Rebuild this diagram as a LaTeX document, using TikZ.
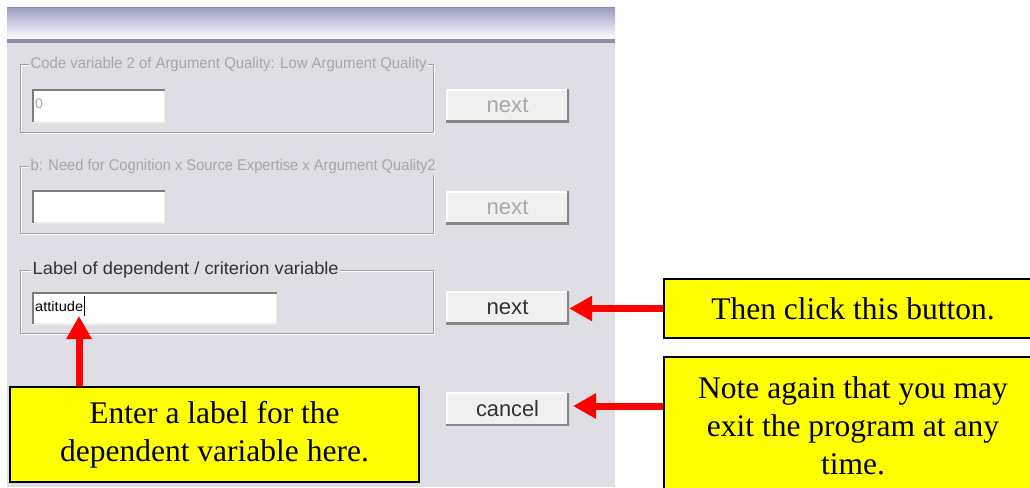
\documentclass[tikz,border=0pt]{standalone}
\usepackage{fontspec}
\usepackage{graphicx}
\setmainfont{Liberation Serif}
\setsansfont{Liberation Sans}
\usetikzlibrary{arrows.meta}
\definecolor{panelgray}{RGB}{222,222,228}
\definecolor{tbtop}{RGB}{160,162,196}
\definecolor{tbbot}{RGB}{248,248,252}
\definecolor{tbline}{RGB}{140,140,170}
\definecolor{framedark}{RGB}{160,160,164}
\definecolor{distext}{RGB}{168,168,164}
\definecolor{dark}{RGB}{50,50,50}
\definecolor{btnface}{RGB}{240,240,240}
\definecolor{btnshade}{RGB}{135,135,135}
\definecolor{tbdark}{RGB}{125,125,125}
\definecolor{tblight}{RGB}{240,238,226}
\definecolor{callyellow}{RGB}{255,255,0}
\definecolor{arrowred}{RGB}{255,0,0}
\tikzset{
  glabel/.style={fill=panelgray, inner sep=1.5pt, anchor=west},
  btn/.style={fill=btnface, minimum width=123pt, minimum height=33pt, inner sep=0pt,
    font=\sffamily\fontsize{22}{22}\selectfont,
    path picture={
      \draw[white,line width=3pt] (path picture bounding box.south west) |- (path picture bounding box.north east);
      \draw[btnshade,line width=4pt] (path picture bounding box.south west) -| (path picture bounding box.north east);}},
  tbox/.style={fill=white, inner sep=0pt, minimum height=33pt, anchor=north west,
    path picture={
      \draw[tblight,line width=3pt] (path picture bounding box.south west) -| (path picture bounding box.north east);
      \draw[tbdark,line width=4pt] (path picture bounding box.south west) |- (path picture bounding box.north east);}},
  callout/.style={fill=callyellow, draw=black, line width=2pt, inner sep=0pt, align=center,
    font=\fontsize{31.5}{38}\selectfont},
  redarrow/.style={draw=arrowred, line width=7pt, -{Triangle[length=23pt,width=24pt]}},
  etch/.style={draw=framedark, line width=1pt},
  etchw/.style={draw=white, line width=1pt}
}
\begin{document}
\begin{tikzpicture}[x=1pt,y=-1pt]
\useasboundingbox (0,0) rectangle (1030,487);
\fill[white] (0,0) rectangle (1030,487);
% panel
\fill[panelgray] (7,42) rectangle (615,487);
% title bar
\fill[tbline] (7,7) rectangle (615,9);
\shade[top color=tbtop, bottom color=tbbot] (7,9) rectangle (615,37);
\fill[tbbot] (7,37) rectangle (615,39);
\fill[tbline] (7,39) rectangle (615,43);

% group 1
\draw[etchw] (21.5,65.5) rectangle (434.5,133.5);
\draw[etch] (20.5,64.5) rectangle (433.5,132.5);
\node[glabel, text=distext, font=\sffamily\fontsize{15.5}{15.5}\selectfont] (lab1) at (29,64)
  {\resizebox{396pt}{\height}{Code variable 2 of Argument Quality: Low Argument Quality}};
\node[tbox, minimum width=133pt] (tb1) at (32,89) {};
\node[anchor=west, inner sep=0pt, text=distext, font=\sffamily\fontsize{14}{14}\selectfont] (tb1txt) at (35,104) {0};
\node[btn, text=distext] (bn1) at (507.5,105.5) {\resizebox{42pt}{\height}{next}};

% group 2
\draw[etchw] (21.5,167.5) rectangle (434.5,234.5);
\draw[etch] (20.5,166.5) rectangle (433.5,233.5);
\node[glabel, text=distext, font=\sffamily\fontsize{15.5}{15.5}\selectfont] (lab2) at (29,166)
  {\resizebox{405pt}{\height}{b: Need for Cognition x Source Expertise x Argument Quality2}};
\node[tbox, minimum width=133pt] (tb2) at (32,190) {};
\node[btn, text=distext] (bn2) at (507.5,207.5) {\resizebox{42pt}{\height}{next}};

% group 3
\draw[etchw] (21.5,271.5) rectangle (434.5,334.5);
\draw[etch] (20.5,270.5) rectangle (433.5,333.5);
\node[glabel, text=dark, font=\sffamily\fontsize{17.5}{17.5}\selectfont] (lab3) at (31,270)
  {\resizebox{306pt}{\height}{Label of dependent / criterion variable}};
\node[tbox, minimum width=245pt, minimum height=32pt] (tb3) at (32,292) {};
\node[anchor=west, inner sep=0pt, text=black, font=\sffamily\fontsize{14}{14}\selectfont] (tb3txt) at (35,306)
  {\resizebox{48pt}{\height}{attitude}};
\draw[black, line width=1pt] (tb3txt.east) ++(1,-10) -- ++(0,20);
\node[btn, text=dark] (bn3) at (507.5,307.5) {\resizebox{42pt}{\height}{next}};

% cancel
\node[btn, text=dark] (bcancel) at (507.5,409) {\resizebox{63pt}{\height}{cancel}};

% callouts
\node[callout, minimum width=409pt, minimum height=95pt] (cA) at (214.5,434.5)
  {Enter a label for the\\dependent variable here.};
\node[callout, minimum width=378pt, minimum height=59pt] (c1) at (853,308.5)
  {Then click this button.};
\node[callout, minimum width=378pt, minimum height=138pt] (c2) at (853,426)
  {Note again that you may\\exit the program at any\\time.};

% arrows
\coordinate (t1) at (79,316);
\coordinate (t3) at (573,406);
\draw[redarrow] (cA.north -| t1) -- (t1);
\draw[redarrow] (c1.west) -- (bn3.east |- c1.west);
\draw[redarrow] (c2.west |- t3) -- (t3);
\end{tikzpicture}
\end{document}
